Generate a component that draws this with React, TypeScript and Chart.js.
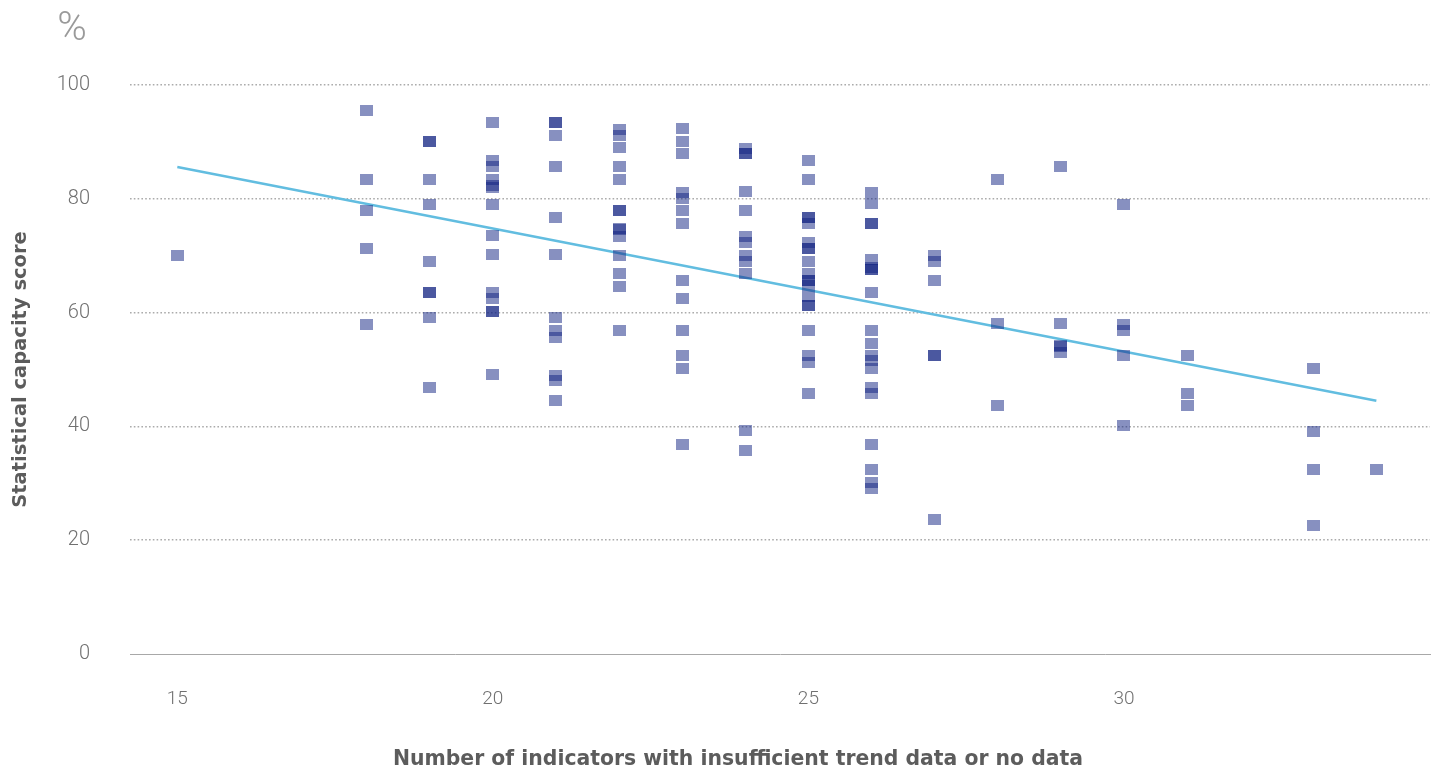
import React, { useEffect, useRef } from "react";
import { Chart, registerables } from "chart.js";

Chart.register(...registerables);

// x value: number of indicators with insufficient trend data or no data
const indicatorCounts = [15, 18, 19, 20, 21, 22, 23, 24, 25, 26, 27, 28, 29, 30, 31, 33, 34];

// statistical capacity scores for each indicator count
const scores15 = [70.0];
const scores18 = [95.6, 83.4, 77.9, 71.2, 57.9];
const scores19 = [90.1, 90.1, 83.4, 79.0, 69.0, 63.5, 63.5, 59.1, 46.9];
const scores20 = [93.4, 86.7, 85.6, 83.4, 82.3, 82.0, 79.0, 73.5, 70.2, 63.5, 62.5, 60.2, 60.2, 49.2];
const scores21 = [93.4, 93.4, 91.2, 85.7, 76.7, 70.2, 59.1, 56.8, 55.7, 49.0, 48.0, 44.6];
const scores22 = [92.2, 91.1, 89.0, 85.7, 83.4, 77.9, 77.9, 74.8, 74.6, 73.4, 70.1, 66.9, 64.6, 56.8];
const scores23 = [92.3, 90.1, 87.9, 81.1, 80.0, 77.9, 75.7, 65.7, 62.4, 56.8, 52.5, 50.2, 36.9];
const scores24 = [88.9, 87.9, 87.9, 81.2, 77.9, 73.4, 72.3, 70.0, 69.0, 66.9, 39.2, 35.7];
const scores25 = [86.7, 83.4, 76.7, 76.7, 75.7, 72.4, 71.2, 71.2, 69.0, 66.9, 65.7, 65.7, 64.8, 62.8, 61.3, 61.3, 56.8, 52.4, 51.3, 45.7];
const scores26 = [81.1, 79.1, 75.7, 75.7, 69.4, 68.0, 67.5, 67.5, 63.5, 56.8, 54.6, 52.5, 51.5, 50.2, 46.9, 45.8, 36.9, 32.4, 30.2, 29.1];
const scores27 = [70.0, 69.0, 65.7, 52.5, 52.5, 23.7];
const scores28 = [83.4, 58.0, 43.6];
const scores29 = [85.7, 58.0, 54.2, 54.0, 53.0];
const scores30 = [79.0, 57.9, 56.8, 52.5, 40.2];
const scores31 = [52.5, 45.7, 43.6];
const scores33 = [50.2, 39.1, 32.5, 22.6];
const scores34 = [32.5];

const scoresByCount = [
  scores15, scores18, scores19, scores20, scores21, scores22, scores23, scores24, scores25,
  scores26, scores27, scores28, scores29, scores30, scores31, scores33, scores34,
];

// linear trend line end points
const trendX = [15, 34];
const trendY = [85.6, 44.5];

const xTicks = [15, 20, 25, 30];
const yTitle = "Statistical capacity score";
const xTitle = "Number of indicators with insufficient trend data or no data";
const unitLabel = "%";

export default function App() {
  const canvasRef = useRef<HTMLCanvasElement | null>(null);

  useEffect(() => {
    document.body.style.margin = "0";
    const canvas = canvasRef.current;
    if (!canvas) return;

    const marker = document.createElement("canvas");
    marker.width = 13;
    marker.height = 11;
    const mctx = marker.getContext("2d")!;
    mctx.fillStyle = "rgba(15,33,129,0.5)";
    mctx.fillRect(0, 0, 13, 11);

    const points: { x: number; y: number }[] = [];
    indicatorCounts.forEach((c, i) => {
      scoresByCount[i].forEach((s) => points.push({ x: c, y: s }));
    });
    const trend = trendX.map((x, i) => ({ x, y: trendY[i] }));

    const extraText = {
      id: "extraText",
      afterDraw(chart: any) {
        const ctx = chart.ctx;
        ctx.save();
        ctx.fillStyle = "#9a9a9a";
        ctx.font = "300 40px Roboto";
        ctx.textAlign = "center";
        ctx.textBaseline = "middle";
        ctx.fillText(unitLabel, 72, 30);
        ctx.fillStyle = "#5c5c5c";
        ctx.font = "bold 20.4px 'DejaVu Sans'";
        ctx.fillText(xTitle, 738, 760);
        ctx.restore();
      },
    };

    const chart = new Chart(canvas, {
      type: "scatter",
      data: {
        datasets: [
          {
            type: "scatter",
            data: points,
            pointStyle: marker as any,
            pointRadius: 6,
            order: 1,
          } as any,
          {
            type: "line",
            data: trend,
            borderColor: "#62bde0",
            borderWidth: 2.5,
            pointRadius: 0,
            fill: false,
            order: 2,
          } as any,
        ],
      },
      options: {
        responsive: false,
        animation: false,
        devicePixelRatio: 1,
        layout: { padding: { top: 85, right: 10, left: 0, bottom: 0 } },
        plugins: { legend: { display: false }, tooltip: { enabled: false } },
        scales: {
          x: {
            type: "linear",
            min: 14.25,
            max: 34.85,
            afterBuildTicks: (scale: any) => {
              scale.ticks = xTicks.map((v) => ({ value: v }));
            },
            afterFit: (scale: any) => {
              scale.height = 117;
            },
            grid: { display: false, drawTicks: false },
            border: { display: true, color: "#a8a8a8", width: 1 },
            ticks: {
              padding: 34,
              color: "#707070",
              font: { family: "Roboto", size: 19, weight: "300" as any },
            },
          },
          y: {
            type: "linear",
            min: 0,
            max: 100,
            afterFit: (scale: any) => {
              scale.width = 130;
            },
            ticks: {
              stepSize: 20,
              padding: 40,
              color: "#707070",
              font: { family: "Roboto", size: 20, weight: "300" as any },
            },
            grid: {
              drawTicks: false,
              lineWidth: 1.6,
              color: (ctx: any) => (ctx.tick && ctx.tick.value === 0 ? "rgba(0,0,0,0)" : "#ababab"),
            },
            border: { display: false, dash: [1.6, 2.2] },
            title: {
              display: true,
              text: yTitle,
              color: "#5c5c5c",
              font: { family: "'DejaVu Sans'", size: 19.5, weight: "bold" },
              padding: { top: 9, bottom: 0 },
            },
          },
        },
      },
      plugins: [extraText],
    });

    return () => chart.destroy();
  }, []);

  return (
    <div style={{ width: 1440, height: 771 }}>
      <canvas ref={canvasRef} width={1440} height={771} style={{ display: "block" }} />
    </div>
  );
}
